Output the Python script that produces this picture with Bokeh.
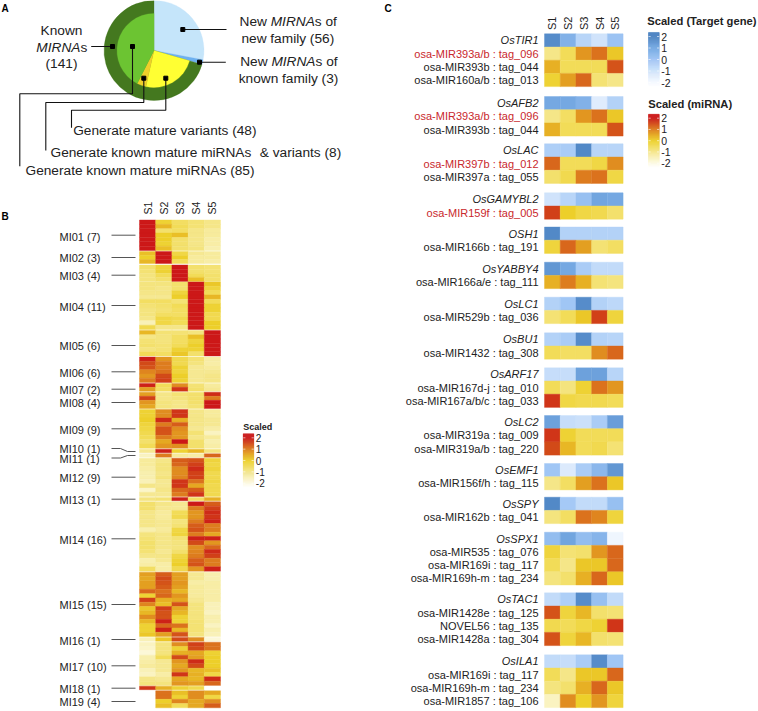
import math
import numpy as np
from bokeh.plotting import figure
from bokeh.models import Range1d, ColumnDataSource, LinearColorMapper
from bokeh.core.properties import value
from bokeh.transform import transform
from bokeh.embed import file_html
from bokeh.resources import INLINE

# ---------- DATA ----------
SAMPLES = ["S1", "S2", "S3", "S4", "S5"]
PIE_KNOWN = 141
PIE_NEW_FAMILY = 56
PIE_NEW_KNOWN_FAMILY = 3
PIE_MATURE_VARIANTS = 48
PIE_BOTH = 8
PIE_KNOWN_MATURE = 85

B_CLUSTERS = ["MI01", "MI02", "MI03", "MI04", "MI05", "MI06", "MI07", "MI08", "MI09", "MI10",
              "MI11", "MI12", "MI13", "MI14", "MI15", "MI16", "MI17", "MI18", "MI19"]
B_COUNTS = [7, 3, 4, 11, 6, 6, 2, 4, 9, 1, 1, 9, 1, 16, 15, 1, 10, 1, 4]

B_S1 = [2, 2, 2, 2, 2, 2, 2,
        0.2, 0, 0.3,
        -0.7, -0.8, -0.9, -0.9,
        -0.9, -0.9, -1, -1.1, -0.6, -0.8, -0.9, -0.9, -1, -1.5, -0.4,
        0.3, -1, -0.8, -0.7, -0.9, -0.5,
        1.9, 1.5, 1.4, 0.9, 0.7, 1,
        1.9, 0.6,
        0.6, 1.6, 0.7, 0.5,
        -0.1, -0.1, 0, -0.2, -0.3, -0.4, -0.5, -0.7, -0.5,
        -1.1,
        -1.6,
        -1.2, -1.2, -1.3, -1.4, -1.4, -1.5, -1, -1.7, -1.1,
        -0.9,
        -0.7, -0.7, -1, -1, -1, -1, -1.4, -0.9, -0.8, -0.7, -0.7, -0.8, -1, -1.4, -1.3, -0.6,
        0.6, 0.5, 0.6, 0.6, 1.2, -0.1, 1.6, 0.9, 0.1, 0.3, 0.8, 0.3, -0.1, -0.1, 0.1,
        -1.5,
        -1.6, -1.7, -1.9, -1.4, -1.3, -1.2, -1.5, -1.6, -1, -0.9,
        1.7,
        -2.4, -2.4, -2.4, -2.4]
B_S2 = [-0.1, 0.3, -0.7, 0, 0, -0.1, 0.2,
        2, 2, 2,
        -0.2, -0.1, -0.5, -0.7,
        -0.9, -1, -1, -1.1, -0.6, -0.7, -0.8, -0.6, -0.3, -0.3, -1,
        -0.8, -0.9, -0.9, -0.8, -0.8, -0.6,
        0.7, 1, 1, 1.1, 1.5, 1.6,
        -0.5, -0.6,
        -1, -1, -0.9, -0.9,
        0.8, 0.8, 1.8, 1, 1.4, 1.4, 1, 0.5, 0.7,
        1.9,
        1,
        -1, -0.9, -0.9, -1, -0.9, -1.1, -1.1, -1, -1.1,
        -0.8,
        -1, -1.1, -1.2, -1.2, -1.1, -1.1, -1.2, -1, -1, -1, -1, -1.1, -1, -1.1, -1.3, -1.3,
        1.3, 1.5, 1.4, 1.3, 1.1, 1.2, 0.4, 0.2, 1.6, 1.4, 1.4, 1.9, 1.2, 1.9, 0.6,
        0.1,
        -0.9, -0.9, -0.9, -0.5, -1.1, -1.1, -1.1, -1.3, -1.1, -0.9,
        0.4,
        1.1, 1.1, 0, 0.2]
B_S3 = [-0.6, -0.5, -0.6, 0.2, -0.7, -0.7, -0.7,
        -0.3, 0, -0.5,
        2, 2, 2, 2,
        -0.7, -0.7, -0.2, 0, -0.8, -0.5, -0.6, -0.6, -0.4, -0.5, -1,
        -0.8, -0.6, -0.6, -0.5, -0.1, 0.1,
        -0.4, -0.4, -0.1, -0.2, 0, -0.1,
        0.8, 1.7,
        -0.8, -0.9, -1, -1,
        1.7, 1.7, 0.4, 1.3, 0.8, 0.7, 0.7, 2, 0.8,
        -0.1,
        -1.2,
        1.3, 1.2, 0.8, 0.8, 0.9, 1.7, 1.7, 1.2, 1,
        1.9,
        -1.1, -1.1, -0.5, -0.4, -0.9, -0.8, -0.3, -0.2, -0.8, -0.9, -0.9, -0.7, -0.3, -0.1, 0, -0.4,
        0.6, 0.6, 0.7, 0.6, 0.3, 0.7, 0.5, 1.4, 0.5, 0.3, -0.1, -0.1, 1.1, 0.3, 1.4,
        1.5,
        0.8, -0.1, 0.4, 1.5, 0.7, 0.5, 0.7, 1.7, 0.5, 0.7,
        -0.1,
        0.2, -0.1, 0.9, -0.5]
B_S4 = [-0.8, -0.8, -1, -1, -1, -1, -0.9,
        -1.1, -1.2, -1.2,
        -0.7, -0.7, -0.5, 0.2,
        2, 2, 2, 2, 2, 2, 2, 2, 2, 2, 2,
        -0.9, 0.2, -0.2, 0, -0.1, -0.7,
        -0.8, -0.9, -1.1, -1.1, -1.1, -1.1,
        -0.8, -0.7,
        -0.7, -0.7, -0.7, -0.8,
        -1, -1, -1, -1, -1.1, -0.8, -1, -0.7, -0.7,
        0.3,
        -1.3,
        1.4, 1.6, 1.8, 1.6, 1.6, 1.1, 0.5, 1.3, 1.7,
        -0.6,
        2, 1, 0.7, 0.7, 1, 1.3, 1.4, 1, 1.9, 1.5, 0.8, 0.9, 1, 1.3, 1.4, 0.7,
        -1.1, -1.1, -1.3, -1.2, -1.2, -1.2, -1.1, -0.9, -0.9, -0.9, -0.9, -0.8, -0.8, -0.8, -0.9,
        0.8,
        1.6, 1.5, 0.5, 0.6, 1.8, 1.5, 0.3, 0.4, 0.3, 0.6,
        -0.4,
        0.8, 0.8, 0.5, 0.5]
B_S5 = [-1, -1, -1.2, -1.2, -1.3, -1.3, -1.4,
        -1.2, -1.2, -1.3,
        -0.8, -0.8, -0.7, -0.7,
        0.1, -0.2, -0.5, 0.3, -0.5, -0.1, -0.1, -0.4, -0.4, 0, 0,
        2, 2, 2, 2, 2, 2,
        -1.3, -1.3, -1.2, -1.1, -1, -1,
        -1.2, -1.1,
        1.8, 1, 2, 2,
        -1.2, -1.2, -1.1, -1.1, -1.3, -1.6, -1.2, -1.4, -1.3,
        -0.9,
        1.2,
        -0.2, -0.3, -0.2, -0.4, -0.4, -0.3, -0.4, -0.4, -0.4,
        0.4,
        1.3, 1.6, 1.8, 1.7, 1.9, 1, 1, 0.5, 1.9, 0.7, 1.2, 1.8, 1.6, 1, 1, 1.9,
        -1.4, -1.4, -1.3, -1.3, -1.3, -1.3, -1.3, -1.5, -1.5, -1.6, -1.4, -1.4, -1.6, -1.4, -1.5,
        -1.9,
        1.1, 1.1, -0.1, 0, 0, 0, 0.2, -0.3, 1.8, 1.2,
        -2.4,
        0.5, -0.3, 0.8, 1.3]

C_GENES = ["OsTIR1", "OsAFB2", "OsLAC", "OsGAMYBL2", "OSH1", "OsYABBY4", "OsLC1", "OsBU1",
           "OsARF17", "OsLC2", "OsEMF1", "OsSPY", "OsSPX1", "OsTAC1", "OsILA1"]
C_GENE_VALUES = [
    [1.8, 0.7, -0.5, -1, 0.1], [1, 1, 0.7, -1.4, -0.4], [-0.3, -0.2, 1.9, -0.5, -0.5],
    [-1, -0.5, 0.2, 1.1, 1], [1.9, -0.4, -0.4, -0.4, -0.4], [1.5, 1, -0.2, -0.7, -0.7],
    [-0.4, 0, 1.8, -0.4, -0.6], [-0.4, -0.2, 1.8, -0.4, -0.5], [-0.8, -0.8, 1.2, 1.2, -0.5],
    [1.2, -0.8, -0.9, -0.2, 1.3], [0, -1.3, -0.2, 0.5, 1.5], [1.9, -0.1, -0.7, -0.7, 0.2],
    [0.3, 1.1, 0.3, 0.6, -1.8], [-0.7, -0.3, 1.8, 0.2, -0.7], [-0.7, -0.8, -0.2, 1.8, 0]]
C_MIRNA_LABELS = [
    ["osa-MIR393a/b : tag_096", "osa-MIR393b : tag_044", "osa-MIR160a/b : tag_013"],
    ["osa-MIR393a/b : tag_096", "osa-MIR393b : tag_044"],
    ["osa-MIR397b : tag_012", "osa-MIR397a : tag_055"],
    ["osa-MIR159f : tag_005"],
    ["osa-MIR166b : tag_191"],
    ["osa-MIR166a/e : tag_111"],
    ["osa-MIR529b : tag_036"],
    ["osa-MIR1432 : tag_308"],
    ["osa-MIR167d-j : tag_010", "osa-MIR167a/b/c : tag_033"],
    ["osa-MIR319a : tag_009", "osa-MIR319a/b : tag_220"],
    ["osa-MIR156f/h : tag_115"],
    ["osa-MIR162b : tag_041"],
    ["osa-MIR535 : tag_076", "osa-MIR169i : tag_117", "osa-MIR169h-m : tag_234"],
    ["osa-MIR1428e : tag_125", "NOVEL56 : tag_135", "osa-MIR1428a : tag_304"],
    ["osa-MIR169i : tag_117", "osa-MIR169h-m : tag_234", "osa-MIR1857 : tag_106"]]
C_MIRNA_VALUES = [
    [[-1, -0.5, 0.7, 1.1, 0.1], [0.4, -0.5, -0.5, -0.5, 1.4], [-0.1, 0.6, 1.2, -0.8, -1]],
    [[-1, -0.6, 0.7, 1.1, 0.1], [0.4, -0.5, -0.5, -0.5, 1.4]],
    [[1.2, -0.5, -0.5, -0.3, 0.8], [-0.7, -0.4, 1, 1.1, -0.3]],
    [[1.6, 0, -0.3, -0.4, -0.7]],
    [[-0.2, 1.2, 0.6, -0.8, -0.6]],
    [[0.4, 1, 0.4, -0.8, -0.9]],
    [[-0.8, -0.5, 0.1, 1.6, -0.2]],
    [[-0.5, -0.6, -0.6, 0.8, 1.2]],
    [[-0.5, -0.9, -0.1, 1.1, 0.7], [1.7, -0.3, -0.4, -0.4, -0.5]],
    [[1.7, -0.1, -0.5, -0.5, -0.5], [1.5, 0.3, -0.5, -0.4, -0.8]],
    [[-1, -0.6, 0.6, 1.1, 0.1]],
    [[-0.9, -0.6, 1.1, 0.9, -0.2]],
    [[-0.2, -0.8, -0.7, 0.7, 1.2], [-0.5, -1, 0.1, 0.1, 1.2], [-0.9, -0.7, 0.4, 1.2, 0.1]],
    [[1.4, -0.2, 0.3, -0.7, -0.8], [-0.4, -0.5, -0.3, -0.1, 1.7], [1.4, -0.2, 0.3, -0.7, -0.8]],
    [[-0.5, -1, 0.1, 0.1, 1.2], [-0.9, -0.7, 0.4, 1.2, 0.1], [-1.6, 0.8, 0, 0.7, -0.2]]]
C_RED_LABELS = ["osa-MIR393a/b : tag_096", "osa-MIR397b : tag_012", "osa-MIR159f : tag_005"]
SCALE_TICKS = [2, 1, 0, -1, -2]

# ---------- LAYOUT / STYLE ----------
FONT = "Liberation Sans"
INK = "#222222"
B_X0, B_CW = 139.0, 16.2
B_TOPS = [219.5, 251, 264.5, 281.5, 330, 356.5, 383, 391.7, 409, 448.7, 453.3, 457.7, 497, 501.3,
          571.7, 637, 641.7, 685.7, 690.3]
B_BOTTOMS = [250, 263, 281, 329, 355.5, 382, 390.7, 408, 447.7, 452.3, 456.7, 496, 500.3, 570.7,
             636, 640.7, 685, 689.3, 707.3]
B_LABEL_Y = [236, 257.7, 275.3, 306.3, 345.7, 372, 389.3, 402.3, 429, 448.3, 458, 477.7, 499.3,
             539, 604.7, 640, 666.7, 688.3, 701.7]
B_LEAD_Y = [234.7, 257, 274.7, 305, 345, 371.3, 388.7, 402, 428.3, None, None, 476.7, 498.7,
            538.3, 604, 639, 665.3, 687.7, 701]
C_X0, C_CW, C_RH = 544.0, 15.72, 13.2
C_TOPS = [33.3, 96, 143.3, 192.3, 226.5, 261.7, 296.7, 332.3, 367.3, 415, 463, 496.7, 531.7, 592.3, 654.3]


def ramp(anchors, colors, n=256):
    rgb = np.array([[int(c[i:i + 2], 16) for i in (1, 3, 5)] for c in colors], float)
    t = np.linspace(anchors[0], anchors[-1], n)
    out = np.stack([np.interp(t, anchors, rgb[:, k]) for k in range(3)], 1).round().astype(int)
    return ["#%02x%02x%02x" % tuple(r) for r in out]


HEAT_MAP = LinearColorMapper(
    palette=ramp([-2.4, -2, -1.5, -1, -0.5, 0, 0.5, 1, 1.5, 2],
                 ["#ffffff", "#fdfae0", "#f9f1b8", "#f5e688", "#f2dc58", "#edcf2a", "#e5a822",
                  "#dd7c1e", "#d24a18", "#cc1818"]), low=-2.4, high=2)
BLUE_MAP = LinearColorMapper(
    palette=ramp([-2.4, -2, -1, 0, 1, 2],
                 ["#ffffff", "#f6faff", "#d0e3fb", "#a0c6f5", "#75a8e2", "#4f86c4"]), low=-2.4, high=2)

p = figure(width=758, height=711, x_range=Range1d(0, 758), y_range=Range1d(711, 0),
           toolbar_location=None, output_backend="svg", min_border=0,
           background_fill_color="white", border_fill_color="white", outline_line_color=None)
p.axis.visible = False
p.grid.visible = False


def txt(x, y, s, size, align="left", color=INK, style="normal", angle=0.0, baseline="middle"):
    p.text([x], [y], text=[s], text_font=value(FONT), text_font_size=f"{size}px",
           text_font_style=style, text_align=align, text_baseline=baseline,
           text_color=color, angle=angle)


def cells(xs, ys, ws, hs, vals, mapper):
    src = ColumnDataSource(dict(x=xs, y=ys, w=ws, h=hs, v=vals))
    p.rect("x", "y", "w", "h", source=src, fill_color=transform("v", mapper),
           line_color=transform("v", mapper), line_width=0.4)


# ---------- A: pie ----------
CX, CY, R_OUT, R_IN = 153.5, 50.0, 50.0, 37.0
outer_total = PIE_KNOWN + PIE_NEW_FAMILY + PIE_NEW_KNOWN_FAMILY
a = 90.0
for cnt, col in [(PIE_NEW_FAMILY, "#c5e5fa"), (PIE_NEW_KNOWN_FAMILY, "#6eb1f0"), (PIE_KNOWN, "#44781f")]:
    b = a - 360.0 * cnt / outer_total
    p.wedge([CX], [CY], radius=R_OUT, start_angle=math.radians(a), end_angle=math.radians(b),
            direction="clock", fill_color=col, line_color=col, line_width=0.3)
    a = b
a = 90.0 - 360.0 * (PIE_NEW_FAMILY + PIE_NEW_KNOWN_FAMILY) / outer_total
for cnt, col in [(PIE_MATURE_VARIANTS, "#ffff33"), (PIE_BOTH, "#efcf2a"), (PIE_KNOWN_MATURE, "#6cc432")]:
    b = a - 360.0 * cnt / outer_total
    p.wedge([CX], [CY], radius=R_IN, start_angle=math.radians(a), end_angle=math.radians(b),
            direction="clock", fill_color=col, line_color=col, line_width=0.3)
    a = b

LEADERS_A = [([90.7, 112], [46, 46]),
             ([132, 132, 19.3, 19.3], [46, 93.3, 93.3, 165.7]),
             ([143.3, 143.3, 45.3, 45.3], [77.7, 102, 102, 150]),
             ([165.3, 165.3, 71, 71], [77.7, 109.7, 109.7, 127.3]),
             ([182.3, 226], [29, 29]),
             ([199, 225.3], [61.7, 61.7])]
for xs, ys in LEADERS_A:
    p.line(xs, ys, line_color="#111111", line_width=1.1)
p.rect([112, 132, 143.3, 165.3, 182.3, 199], [46, 46, 77.7, 77.7, 29, 61.7], 4, 4,
       fill_color="black", line_color="black")

FS = 13.7
for x, y in [(239, 20.7), (239.7, 61)]:
    txt(x, y, "New ", FS)
    txt(x + 31.2, y, "MIRNA", FS, style="italic")
    txt(x + 75.3, y, "s of", FS)
txt(287.3, 37.5, "new family (56)", FS, "center")
txt(288, 77.7, "known family (3)", FS, "center")
txt(61, 30, "Known", FS, "center")
txt(35.8, 46.7, "MIRNA", FS, style="italic")
txt(79.9, 46.7, "s", FS)
txt(61, 62.7, "(141)", FS, "center")
txt(72.7, 130, "Generate mature variants (48)", FS)
txt(50, 151.7, "Generate known mature miRNAs", FS)
txt(259.3, 151.7, "& variants (8)", FS)
txt(25, 170, "Generate known mature miRNAs (85)", FS)
txt(1, 8, "A", 10, style="bold", color="black")
txt(1, 216, "B", 10, style="bold", color="black")
txt(384, 8, "C", 10, style="bold", color="black")

# ---------- B: heatmap ----------
xs, ys, ws, hs, vs = [], [], [], [], []
start = 0
for top, bot, n in zip(B_TOPS, B_BOTTOMS, B_COUNTS):
    rh = (bot - top) / n
    for r in range(n):
        for c, col in enumerate([B_S1, B_S2, B_S3, B_S4, B_S5]):
            xs.append(B_X0 + (c + 0.5) * B_CW)
            ys.append(top + (r + 0.5) * rh)
            ws.append(B_CW)
            hs.append(rh)
            vs.append(col[start + r])
    start += n
cells(xs, ys, ws, hs, vs, HEAT_MAP)

for c, s in enumerate(SAMPLES):
    txt(B_X0 + (c + 0.5) * B_CW, 214, s, 10.5, angle=math.pi / 2)

for name, cnt, ly, lead in zip(B_CLUSTERS, B_COUNTS, B_LABEL_Y, B_LEAD_Y):
    txt(59, ly, f"{name} ({cnt})", 11)
    if lead is not None:
        p.line([111, 135], [lead, lead], line_color="#555555", line_width=1)
p.line([111, 120, 127, 135], [448, 448, 451, 451], line_color="#555555", line_width=1)
p.line([111, 120, 127, 135], [457.5, 457.5, 455, 455], line_color="#555555", line_width=1)


def colorbar(x0, x1, y_hi, y_lo, mapper, label_x, fs, ticks):
    unit = (y_lo - y_hi) / 4.0
    yy = np.arange(y_hi - 0.33 * unit, y_lo + 0.42 * unit, 0.5)
    val = 2 - (yy - y_hi) / unit
    cells([(x0 + x1) / 2] * len(yy), list(yy), [x1 - x0] * len(yy), [0.5] * len(yy), list(val), mapper)
    for t in ticks:
        ty = y_hi + (2 - t) * unit
        p.line([x0, x0 + 2.2], [ty, ty], line_color="white", line_width=0.6)
        p.line([x1 - 2.2, x1], [ty, ty], line_color="white", line_width=0.6)
        txt(label_x, ty, str(t), fs)


txt(242.7, 426.7, "Scaled", 9, style="bold")
colorbar(242.7, 253.3, 437.3, 482.7, HEAT_MAP, 255.3, 10, SCALE_TICKS)

# ---------- C: paired heatmap ----------
bx, by, bw, bh, bv = [], [], [], [], []
hx, hy, hw, hh, hv = [], [], [], [], []
for gene, gv, labs, mv, top in zip(C_GENES, C_GENE_VALUES, C_MIRNA_LABELS, C_MIRNA_VALUES, C_TOPS):
    yc = top + C_RH / 2
    txt(538, yc, gene, 11, "right", style="italic")
    for c, v in enumerate(gv):
        bx.append(C_X0 + (c + 0.5) * C_CW); by.append(yc); bw.append(C_CW); bh.append(C_RH); bv.append(v)
    for r, (lab, row) in enumerate(zip(labs, mv)):
        yr = yc + (r + 1) * C_RH
        txt(538, yr, lab, 11, "right", color="#c9282d" if lab in C_RED_LABELS else INK)
        for c, v in enumerate(row):
            hx.append(C_X0 + (c + 0.5) * C_CW); hy.append(yr); hw.append(C_CW); hh.append(C_RH); hv.append(v)
cells(bx, by, bw, bh, bv, BLUE_MAP)
cells(hx, hy, hw, hh, hv, HEAT_MAP)

for c, s in enumerate(SAMPLES):
    txt(C_X0 + (c + 0.5) * C_CW, 29.5, s, 11, angle=math.pi / 2)

txt(646.7, 20.7, "Scaled (Target gene)", 11.2, style="bold")
colorbar(648, 658.7, 36, 82, BLUE_MAP, 660.7, 10.5, SCALE_TICKS)
txt(647.7, 103, "Scaled (miRNA)", 11.2, style="bold")
colorbar(648, 658.7, 117.7, 162.7, HEAT_MAP, 660.7, 10.5, SCALE_TICKS)

open("out.html", "w").write(file_html(p, INLINE))
